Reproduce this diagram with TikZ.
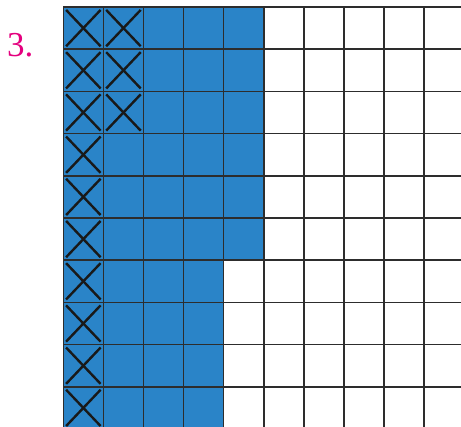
\documentclass[tikz,border=0pt]{standalone}
\usepackage{fontspec}
\setmainfont{Liberation Serif}
\definecolor{cellblue}{RGB}{42,132,200}
\definecolor{labelpink}{RGB}{228,0,126}
\definecolor{gridgray}{RGB}{45,45,45}
\tikzset{
  gridline/.style={line width=1.5pt, draw=gridgray},
  crossline/.style={line width=2.4pt, draw=black!90},
}
\begin{document}
\begin{tikzpicture}[x=1pt,y=-1pt]
    \useasboundingbox (0,0) rectangle (461,427);
    \node[text=labelpink, anchor=base west, inner sep=0pt,
          font=\fontsize{35}{35}\selectfont] (num) at (7,57) {3.};

    \begin{scope}[shift={(63.3,7)}, x=40.1pt, y=-42.2pt]
        % shaded part
        \fill[cellblue] (0,0) rectangle (5,6);
        \fill[cellblue] (0,6) rectangle (4,10);
        % crossed cells
        \foreach \r in {0,1,2}
            \foreach \c in {0,1} {
                \draw[crossline] (\c+0.07,\r+0.07) -- (\c+0.93,\r+0.93);
                \draw[crossline] (\c+0.93,\r+0.07) -- (\c+0.07,\r+0.93);
            }
        \foreach \r in {3,...,9} {
            \draw[crossline] (0.07,\r+0.07) -- (0.93,\r+0.93);
            \draw[crossline] (0.93,\r+0.07) -- (0.07,\r+0.93);
        }
        % grid
        \foreach \i in {0,...,10}
            \draw[gridline] (\i,0) -- (\i,10);
        \foreach \j in {0,...,10}
            \draw[gridline] (0,\j) -- (10,\j);
    \end{scope}
\end{tikzpicture}
\end{document}
